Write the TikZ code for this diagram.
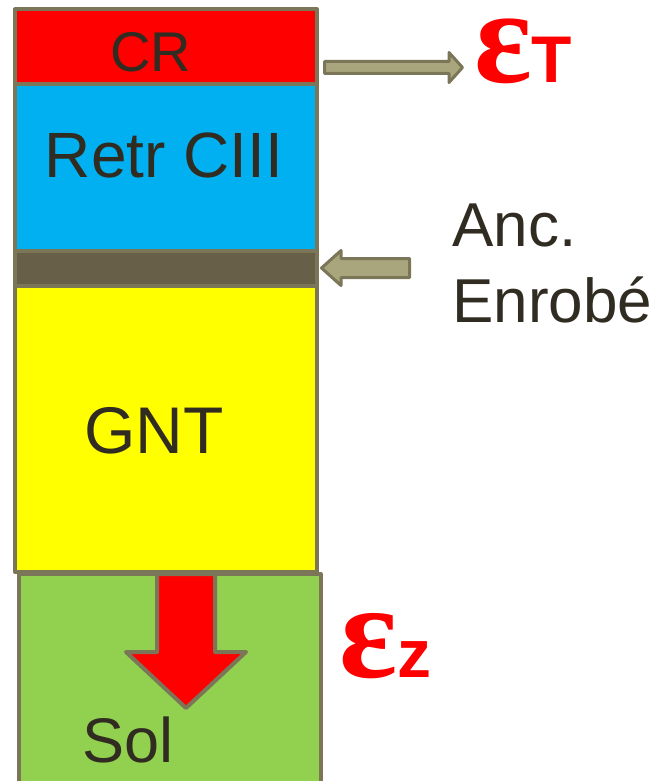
\documentclass[tikz,border=0pt]{standalone}
\usepackage{fontspec}
\setmainfont{Liberation Sans}
\newfontfamily\epsfont{Liberation Serif}
\usetikzlibrary{calc,positioning}
\definecolor{edge}{RGB}{123,118,88}
\definecolor{shaft}{RGB}{169,165,124}
\definecolor{ink}{RGB}{49,44,34}
\definecolor{cyanl}{RGB}{0,176,240}
\definecolor{ancc}{RGB}{103,95,72}
\definecolor{gntc}{RGB}{255,255,0}
\definecolor{soil}{RGB}{146,208,80}
\definecolor{strain}{RGB}{255,0,0}
\begin{document}
\begin{tikzpicture}[x=1pt,y=-1pt,
    layer/.style={draw=edge,line width=4pt,inner sep=0pt,
                  minimum width=302pt,line join=round},
    lbl/.style={text=ink,inner sep=0pt,anchor=base},
    eps/.style={text=strain,inner sep=0pt,anchor=base west,
                text height=62pt,text depth=2pt},
    grayar/.style={draw=edge,fill=shaft,line width=3pt,line join=round},
    redar/.style={draw=edge,fill=strain,line width=4pt,line join=round}]
  \useasboundingbox (0,0) rectangle (660,781);
  \clip (0,0) rectangle (660,781);
  % layers, top to bottom
  \node[layer,fill=strain,minimum height=75pt] (cr) at (166,47) {};
  \node[layer,fill=cyanl,minimum height=166pt] (retr) at (166,167.5) {};
  \node[layer,fill=ancc,minimum height=35pt] (anc) at (166,268) {};
  \node[layer,fill=gntc,minimum height=286.5pt] (gnt) at (166,428.75) {};
  \node[layer,fill=soil,minimum height=226pt] (sol) at (169.5,687) {};
  % layer names
  \node[lbl,font=\fontsize{56}{56}\selectfont] (crt) at (151,72) {CR};
  \node[lbl,font=\fontsize{64}{64}\selectfont] (retrt) at (164,177) {Retr CIII};
  \node[lbl,font=\fontsize{66}{66}\selectfont] (gntt) at (154,453) {GNT};
  \node[lbl,font=\fontsize{63}{63}\selectfont] (solt) at (128,762) {Sol};
  \node[lbl,anchor=base west,font=\fontsize{62}{62}\selectfont] (anct) at (452,246) {Anc.};
  \node[lbl,anchor=base west,font=\fontsize{62}{62}\selectfont] (enrt) at (452,322) {Enrobé};
  % strains
  \node[eps] (epsT) at (474,83)
    {{\epsfont\bfseries\fontsize{135}{135}\selectfont ε}{\bfseries\fontsize{66}{66}\selectfont T}};
  \node[eps] (epsZ) at (339,677)
    {{\epsfont\bfseries\fontsize{136}{136}\selectfont ε}{\bfseries\fontsize{68}{68}\selectfont z}};
  % block arrows
  \draw[grayar] (324.5,61.5) -- (449,61.5) -- (449,52.5) -- (462.5,67.5)
    -- (449,82.5) -- (449,73.5) -- (324.5,73.5) -- cycle;
  \draw[grayar] (409.5,258.5) -- (341,258.5) -- (341,250.5) -- (321.5,268)
    -- (341,285.5) -- (341,277.5) -- (409.5,277.5) -- cycle;
  \draw[redar] (157,574) -- (157,652) -- (126,652) -- (186,708)
    -- (246,652) -- (215,652) -- (215,574) -- cycle;
\end{tikzpicture}
\end{document}
